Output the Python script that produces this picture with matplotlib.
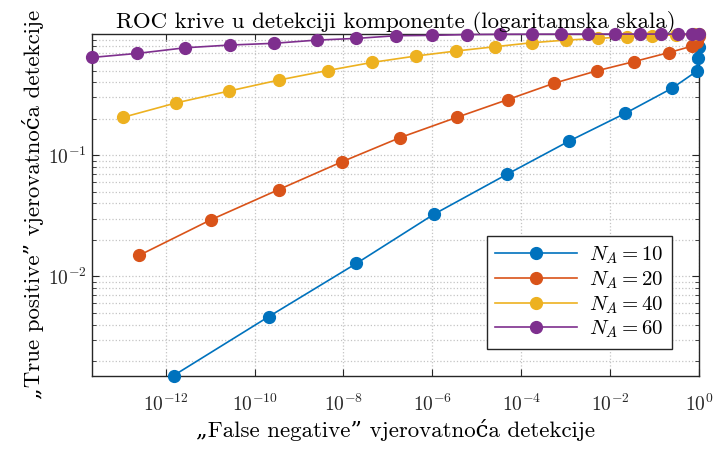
import matplotlib
matplotlib.use('Agg')
import matplotlib.pyplot as plt
import numpy as np
from matplotlib.ticker import LogLocator, NullLocator, NullFormatter

plt.rcParams['mathtext.fontset'] = 'cm'
plt.rcParams['axes.formatter.use_mathtext'] = True
plt.rcParams['font.family'] = ['cmr10', 'DejaVu Serif']

labels = ['$N_A = 10$', '$N_A = 20$', '$N_A = 40$', '$N_A = 60$']
colors = ['#0072BD', '#D95319', '#EDB120', '#7E2F8E']

# false negative (x) / true positive (y) for each N_A
fn_10 = [1.5e-12, 2.1e-10, 1.95e-8, 1.07e-6, 4.8e-5, 1.2e-3, 2.2e-2, 0.25, 0.89, 0.95, 1.0]
tp_10 = [1.52e-3, 4.67e-3, 1.28e-2, 3.25e-2, 6.97e-2, 0.131, 0.222, 0.358, 0.494, 0.634, 0.782]

fn_20 = [2.5e-13, 1.05e-11, 3.5e-10, 9.1e-9, 1.9e-7, 3.5e-6, 5.0e-5, 5.4e-4, 5.1e-3,
         3.5e-2, 0.21, 0.71, 0.92, 1.0]
tp_20 = [0.0149, 0.0294, 0.0521, 0.0881, 0.140, 0.205, 0.288, 0.392, 0.498,
         0.593, 0.703, 0.796, 0.863, 0.97]

fn_40 = [1.07e-13, 1.7e-12, 2.6e-11, 3.5e-10, 4.4e-9, 4.4e-8, 4.2e-7, 3.4e-6, 2.5e-5,
         1.7e-4, 1.0e-3, 5.4e-3, 2.4e-2, 8.7e-2, 0.30, 0.78, 1.0]
tp_40 = [0.205, 0.270, 0.338, 0.417, 0.500, 0.583, 0.658, 0.724, 0.785,
         0.847, 0.891, 0.920, 0.950, 0.968, 0.985, 0.993, 0.999]

fn_60 = [2.2e-14, 2.3e-13, 2.75e-12, 2.75e-11, 2.7e-10, 2.5e-9, 1.95e-8, 1.5e-7, 9.8e-7,
         6.0e-6, 3.3e-5, 1.7e-4, 7.8e-4, 3.2e-3, 1.3e-2, 4.7e-2, 0.138, 0.34, 0.71, 1.0]
tp_60 = [0.641, 0.692, 0.770, 0.811, 0.838, 0.891, 0.920, 0.968, 0.975,
         0.990, 0.995, 0.997, 0.998, 0.999, 0.999, 0.999, 0.999, 0.999, 0.999, 0.999]

fn_all = [fn_10, fn_20, fn_40, fn_60]
tp_all = [tp_10, tp_20, tp_40, tp_60]

fig = plt.figure(figsize=(7.15, 4.5), dpi=100)
ax = fig.add_axes([0.1287, 0.1653, 0.849, 0.7591])

for fn, tp, lab, c in zip(fn_all, tp_all, labels, colors):
    ax.plot(fn, tp, '-o', color=c, label=lab, lw=1.2, markersize=8.5, clip_on=False, zorder=3)

ax.set_xscale('log')
ax.set_yscale('log')
ax.set_xlim(min(fn_60), 1)
ax.set_ylim(min(tp_10), 1)

ax.set_xticks([10.0**k for k in range(-12, 1, 2)])
ax.xaxis.set_minor_locator(NullLocator())
ax.set_yticks([1e-2, 1e-1])
ax.yaxis.set_minor_locator(LogLocator(base=10, subs=np.arange(2, 10)))
ax.yaxis.set_minor_formatter(NullFormatter())

ax.grid(True, which='major', linestyle=':', color='#c4c4c4', lw=0.9)
ax.grid(True, which='minor', axis='y', linestyle=':', color='#c4c4c4', lw=0.9)
ax.set_axisbelow(True)

ax.tick_params(which='both', direction='in', top=True, right=True, labelsize=14, colors='#262626')
ax.tick_params(which='major', length=5)
ax.tick_params(which='minor', length=3)
ax.tick_params(axis='x', pad=13)
for s in ax.spines.values():
    s.set_color('#262626')
    s.set_linewidth(1.0)

ax.set_title('ROC krive u detekciji komponente (logaritamska skala)', fontsize=16.5, pad=4)
ax.set_xlabel('„False negative” vjerovatnoća detekcije', fontsize=16.5, labelpad=3)
ax.set_ylabel('„True positive” vjerovatnoća detekcije', fontsize=16.5, labelpad=3)

leg = ax.legend(loc='lower right', prop={'size': 15}, fancybox=False, edgecolor='#262626',
                framealpha=1, borderaxespad=1.3, handlelength=3.9, labelspacing=0.15,
                borderpad=0.4, handletextpad=0.6)
leg.get_frame().set_linewidth(1.0)

fig.savefig('out.png', dpi=100)
